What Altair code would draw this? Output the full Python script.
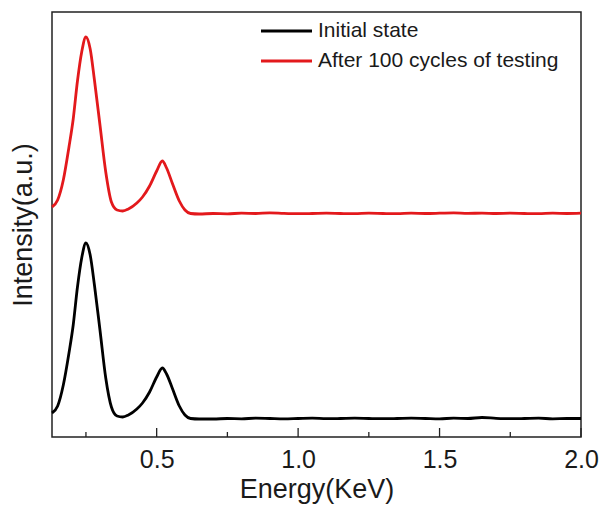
import altair as alt
import pandas as pd

# Energy grid (keV) shared by both spectra
energy = [0.13, 0.15, 0.17, 0.19, 0.205, 0.22, 0.235, 0.25, 0.265, 0.28,
          0.30, 0.32, 0.34, 0.36, 0.38, 0.40, 0.43, 0.45, 0.475, 0.50,
          0.52, 0.535, 0.555, 0.58, 0.60, 0.62, 0.65,
          0.70, 0.75, 0.80, 0.85, 0.90, 0.95, 1.00, 1.05, 1.10, 1.15,
          1.20, 1.25, 1.30, 1.35, 1.40, 1.45, 1.50, 1.55, 1.60, 1.65,
          1.70, 1.75, 1.80, 1.85, 1.90, 1.95, 2.00]

# Intensity (a.u.) of the initial sample
initial = [24, 31, 52, 84, 112, 150, 179, 194, 182, 152,
           106, 59, 30, 21, 20, 22, 28, 34, 45, 60,
           69, 63, 49, 31, 22, 18.5, 18,
           18, 18.5, 18.2, 18.8, 18.5, 18.2, 18.5, 18.8, 18.3, 18.5,
           18.8, 18.5, 18.3, 18.5, 18.8, 18.5, 18.2, 18.8, 18.5, 19.5,
           18.7, 18.3, 18.5, 18.8, 18.2, 18.5, 18.5]

# Intensity (a.u.) after cycling, stacked above the initial spectrum
cycled = [230, 237, 257, 290, 318, 356, 385, 400, 388, 357,
          311, 265, 235, 227, 226, 228, 234, 240, 251, 266,
          276, 269, 254, 236, 227, 223.5, 223,
          223.5, 223.2, 223.8, 223.5, 224.2, 223.6, 223.3, 223.5, 223.8, 223.5,
          223.3, 223.8, 223.5, 223.3, 223.8, 223.5, 223.8, 224.2, 223.6, 223.9,
          223.5, 223.8, 223.5, 223.3, 223.8, 223.5, 223.8]

series_names = ["Initial state", "After 100 cycles of testing"]
series_colors = ["#000000", "#e3191c"]
legend_rows = [0, 1]

major_ticks = [0.5, 1.0, 1.5, 2.0]
minor_ticks = [0.25, 0.75, 1.25, 1.75]

W, H = 529, 425
FONT = "Liberation Sans"
INK = "#1a1a1a"

spectra = pd.concat([
    pd.DataFrame({"energy": energy, "intensity": initial, "series": series_names[0]}),
    pd.DataFrame({"energy": energy, "intensity": cycled, "series": series_names[1]}),
])
legend_df = pd.DataFrame({"series": series_names, "row": legend_rows})

x_scale = alt.Scale(domain=[0.13, 2.0], nice=False, zero=False)
y_scale = alt.Scale(domain=[0, 425], nice=False, zero=False)
color_scale = alt.Scale(domain=series_names, range=series_colors)
row_scale = alt.Scale(type="point", domain=legend_rows, range=[19, 49], padding=0)

lines = alt.Chart(spectra).mark_line(strokeWidth=2.8, interpolate="monotone").encode(
    x=alt.X("energy:Q", scale=x_scale,
            axis=alt.Axis(title="Energy(KeV)", values=major_ticks, format=".1f",
                          ticks=False, domain=False, grid=False, labelFlush=False,
                          labelFontSize=25, labelPadding=10, labelColor=INK,
                          titleFontSize=27, titleFontWeight="normal", titlePadding=4,
                          titleColor=INK, labelFont=FONT, titleFont=FONT)),
    y=alt.Y("intensity:Q", scale=y_scale,
            axis=alt.Axis(title="Intensity(a.u.)", labels=False, ticks=False,
                          domain=False, grid=False, titleFontSize=27,
                          titleFontWeight="normal", titlePadding=15,
                          titleColor=INK, titleFont=FONT)),
    color=alt.Color("series:N", scale=color_scale, legend=None),
    detail="series:N",
)

# Inward-pointing ticks along the bottom edge
major = alt.Chart(pd.DataFrame({"t": major_ticks})).mark_rule(color="#222", strokeWidth=1.3).encode(
    x=alt.X("t:Q", scale=x_scale), y=alt.value(H), y2=alt.value(H - 9))
minor = alt.Chart(pd.DataFrame({"t": minor_ticks})).mark_rule(color="#222", strokeWidth=1.3).encode(
    x=alt.X("t:Q", scale=x_scale), y=alt.value(H), y2=alt.value(H - 5))

# Legend: line sample plus label for each series
legend_lines = alt.Chart(legend_df).mark_rule(strokeWidth=2.8).encode(
    x=alt.value(209), x2=alt.value(260),
    y=alt.Y("row:O", scale=row_scale, axis=None),
    color=alt.Color("series:N", scale=color_scale, legend=None),
)
legend_text = alt.Chart(legend_df).mark_text(
    align="left", baseline="middle", fontSize=21, font=FONT, color=INK
).encode(
    x=alt.value(266),
    y=alt.Y("row:O", scale=row_scale, axis=None),
    text="series:N",
)

chart = alt.layer(lines, major, minor, legend_lines, legend_text).resolve_scale(
    y="independent"
).properties(
    width=W, height=H,
    autosize=alt.AutoSizeParams(type="none"),
    padding={"left": 52, "top": 12, "right": 23, "bottom": 69},
).configure_view(stroke="#222", strokeWidth=1.5)

chart.save("out.html", embed_options={"renderer": "svg", "actions": False})
